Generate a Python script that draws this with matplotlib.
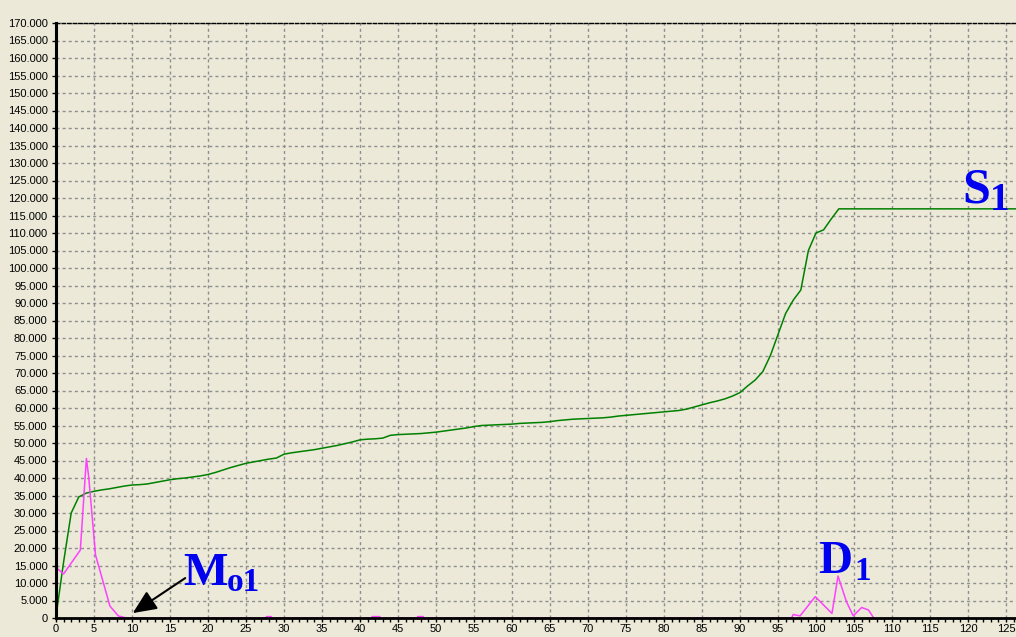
import matplotlib
matplotlib.use("Agg")
import matplotlib.pyplot as plt
from matplotlib.ticker import MultipleLocator, FuncFormatter

# ---- data ----
s1_x = list(range(0, 104)) + [127]
s1_y = [500, 16000, 30000, 34600, 35700, 36200, 36600, 36900, 37300, 37700,
        38000, 38100, 38300, 38700, 39100, 39500, 39800, 40000, 40300, 40600,
        41000, 41600, 42300, 43000, 43600, 44200, 44600, 45000, 45400, 45700,
        46800, 47200, 47500, 47800, 48100, 48500, 48900, 49300, 49800, 50300,
        50900, 51100, 51200, 51400, 52200, 52400, 52500, 52600, 52700, 52900,
        53100, 53400, 53700, 54000, 54300, 54700, 55000, 55100, 55200, 55300,
        55400, 55600, 55700, 55800, 55900, 56100, 56400, 56600, 56800, 56900,
        57000, 57100, 57200, 57400, 57700, 57900, 58100, 58300, 58500, 58700,
        58900, 59100, 59300, 59700, 60300, 60900, 61500, 62000, 62600, 63400,
        64400, 66300, 68000, 70400, 75000, 81000, 87000, 90800, 93700, 105000,
        110000, 110900, 114000, 116900, 116900]

d_x = [0, 1, 3.2, 4.0, 4.3, 5.2, 7.1, 8.2, 9.3,
       27.6, 27.7, 28.3, 28.4, 41.5, 41.6, 42.6, 42.7, 47.5, 47.6, 48.3, 48.4,
       96.8, 97.0, 97.9, 99.9, 102.1, 102.9, 104.0, 104.9, 106.0, 106.9, 107.6]
d_y = [14400, 12600, 19400, 45600, 40400, 18000, 3400, 600, 0,
       0, 400, 400, 0, 0, 400, 400, 0, 0, 400, 400, 0,
       0, 1000, 600, 6100, 1300, 12000, 4700, 600, 3000, 2300, 0]

x_ticks = list(range(0, 126, 5))
y_ticks = list(range(0, 170001, 5000))

BG = "#ECE9D8"
W, H = 1016, 637

fig = plt.figure(figsize=(W / 100, H / 100), dpi=100, facecolor=BG)
ax = fig.add_axes([56 / W, (H - 618) / H, (W - 56) / W, (618 - 23) / H])
ax.set_facecolor(BG)

ax.plot(s1_x, s1_y, color="#008000", lw=1.1, zorder=3)
ax.plot(d_x, d_y, color="#FF40FF", lw=1.1, zorder=3)

ax.set_xlim(0, (W - 56) / 7.6)
ax.set_ylim(0, 170000)

ax.set_xticks(x_ticks)
ax.xaxis.set_minor_locator(MultipleLocator(1))
ax.set_yticks(y_ticks)
ax.yaxis.set_major_formatter(FuncFormatter(lambda v, p: "{:,}".format(int(round(v))).replace(",", ".")))

ax.grid(True, which="major", color="#8F8F8F", lw=1.0, linestyle=(0, (2.2, 2.2)), zorder=1)
ax.grid(False, which="minor")
ax.set_axisbelow(True)

ax.spines["right"].set_visible(False)
ax.spines["top"].set_color("black")
ax.spines["top"].set_linewidth(1.0)
ax.spines["top"].set_linestyle((0, (2.5, 1.5)))
ax.spines["left"].set_linewidth(2.2)
ax.spines["bottom"].set_linewidth(2.0)
ax.spines["left"].set_zorder(4)
ax.spines["bottom"].set_zorder(4)

ax.tick_params(axis="both", which="major", labelsize=8, colors="black",
               length=3, width=1, direction="out")
ax.tick_params(axis="x", which="minor", length=3, width=1, direction="out")
ax.tick_params(axis="x", which="major", pad=1.5)
ax.tick_params(axis="y", which="major", pad=3)
for lab in ax.get_xticklabels() + ax.get_yticklabels():
    lab.set_fontfamily("Liberation Sans")

blue = "#0000F0"
serif = "Liberation Serif"
ax.text(16.7, 9430, "M", fontsize=34, fontweight="bold", color=blue, family=serif, ha="left", va="baseline", zorder=5)
ax.text(22.5, 7700, "o1", fontsize=24, fontweight="bold", color=blue, family=serif, ha="left", va="baseline", zorder=5)
ax.text(119.3, 118600, "S", fontsize=36, fontweight="bold", color=blue, family=serif, ha="left", va="baseline", zorder=5)
ax.text(122.9, 116600, "1", fontsize=28, fontweight="bold", color=blue, family=serif, ha="left", va="baseline", zorder=5)
ax.text(100.3, 12860, "D", fontsize=34, fontweight="bold", color=blue, family=serif, ha="left", va="baseline", zorder=5)
ax.text(105.0, 10860, "1", fontsize=24, fontweight="bold", color=blue, family=serif, ha="left", va="baseline", zorder=5)

ax.annotate("", xy=(10.1, 1400), xytext=(17.0, 11400),
            arrowprops=dict(arrowstyle="-|>,head_length=0.9,head_width=0.4",
                            color="black", lw=1.5, mutation_scale=16,
                            shrinkA=0, shrinkB=0), zorder=5)

fig.savefig("out.png", dpi=100, facecolor=BG)
